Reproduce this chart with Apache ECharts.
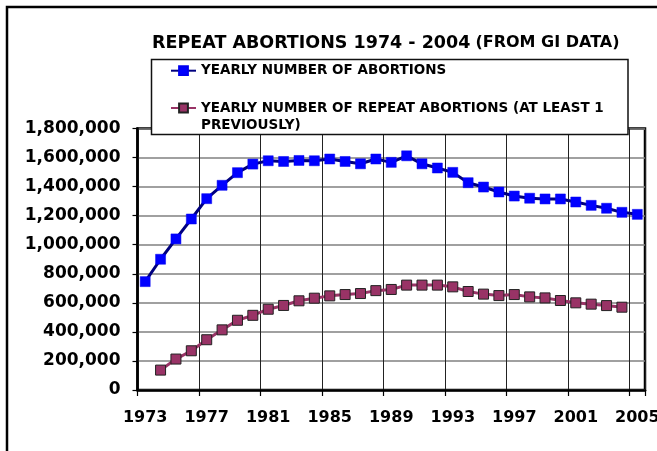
<!DOCTYPE html>
<html>
<head>
<meta charset="utf-8">
<script src="https://cdn.jsdelivr.net/npm/echarts@6/dist/echarts.min.js"></script>
<style>
html,body{margin:0;padding:0;background:#fff;}
#c{width:657px;height:451px;}
</style>
</head>
<body>
<div id="c"></div>
<script>
var years = [1973,1974,1975,1976,1977,1978,1979,1980,1981,1982,1983,1984,1985,1986,1987,1988,1989,1990,1991,1992,1993,1994,1995,1996,1997,1998,1999,2000,2001,2002,2003,2004,2005];
var abortions = [746000,900000,1040000,1177000,1317000,1409000,1496000,1555000,1578000,1573000,1580000,1578000,1590000,1573000,1557000,1590000,1567000,1612000,1557000,1528000,1498000,1427000,1397000,1363000,1335000,1320000,1315000,1315000,1294000,1271000,1251000,1223000,1209000];
var repeatAbortions = [null,137000,213000,270000,346000,414000,480000,514000,556000,582000,614000,632000,648000,657000,664000,684000,692000,722000,722000,722000,710000,678000,660000,650000,657000,641000,634000,616000,600000,591000,581000,570000,null];
var seriesNames = ['YEARLY NUMBER OF ABORTIONS', 'YEARLY NUMBER OF REPEAT ABORTIONS (AT LEAST 1 PREVIOUSLY)'];
var legendLabels = ['YEARLY NUMBER OF ABORTIONS', '\nYEARLY NUMBER OF REPEAT ABORTIONS (AT LEAST 1\nPREVIOUSLY)'];
var titleMain = 'REPEAT ABORTIONS 1974 - 2004';
var titleSub = '(FROM GI DATA)';

var FONT = 'DejaVu Sans';
var chart = echarts.init(document.getElementById('c'), null, {renderer: 'canvas'});
chart.setOption({
  animation: false,
  backgroundColor: '#ffffff',
  title: {
    left: 147, top: 29,
    text: '{a|' + titleMain + '} {b|' + titleSub + '}',
    textStyle: {
      rich: {
        a: {fontFamily: FONT, fontWeight: 'bold', fontSize: 17.5, color: '#000'},
        b: {fontFamily: FONT, fontWeight: 'bold', fontSize: 16, color: '#000'}
      }
    }
  },
  graphic: [
    {type: 'rect', z: 0, silent: true, shape: {x: 7, y: 7, width: 720, height: 520},
     style: {fill: 'none', stroke: '#000', lineWidth: 2.5}},
    {type: 'rect', z: 3, silent: true, shape: {x: 151.5, y: 59.5, width: 476.5, height: 75},
     style: {fill: '#fff', stroke: '#111', lineWidth: 1.5}}
  ],
  legend: [
    {
      data: [{name: seriesNames[0]}],
      left: 170, top: 62.2, padding: 0, orient: 'vertical',
      itemWidth: 25, itemHeight: 11, selectedMode: false,
      formatter: function () { return legendLabels[0]; },
      textStyle: {fontFamily: FONT, fontWeight: 'bold', fontSize: 13.5, lineHeight: 17, color: '#000'}
    },
    {
      data: [{name: seriesNames[1]}],
      left: 170, top: 82.5, padding: 0, orient: 'vertical',
      itemWidth: 25, itemHeight: 11, selectedMode: false,
      formatter: function () { return legendLabels[1]; },
      textStyle: {fontFamily: FONT, fontWeight: 'bold', fontSize: 13.5, lineHeight: 17, color: '#000'}
    }
  ],
  grid: {
    left: 137.5, right: 12, top: 128.5, bottom: 61,
    show: true, borderColor: '#000', borderWidth: 2.5, backgroundColor: 'transparent',
    containLabel: false, outerBoundsMode: 'none'
  },
  xAxis: {
    type: 'category',
    data: years,
    boundaryGap: true,
    axisLine: {show: true, lineStyle: {color: '#000', width: 2.5}},
    axisTick: {show: true, interval: 3, length: 6, lineStyle: {color: '#000', width: 1.2}},
    axisLabel: {interval: 3, margin: 20, fontFamily: FONT, fontWeight: 'bold', fontSize: 16, color: '#000', hideOverlap: false},
    splitLine: {show: true, interval: 3, lineStyle: {color: '#222', width: 1}}
  },
  yAxis: {
    type: 'value',
    min: 0, max: 1800000, interval: 200000,
    axisLine: {show: true, lineStyle: {color: '#000', width: 2.5}},
    axisTick: {show: true, length: 5, lineStyle: {color: '#000', width: 1.2}},
    axisLabel: {margin: 17, fontFamily: FONT, fontWeight: 'bold', fontSize: 17, color: '#000',
      formatter: function (v) { return echarts.format.addCommas(v); }},
    splitLine: {show: true, lineStyle: {color: '#808080', width: 1.5}}
  },
  series: [
    {
      name: seriesNames[0], type: 'line', data: abortions,
      symbol: 'rect', symbolSize: 10, showAllSymbol: true,
      lineStyle: {color: '#00007f', width: 3},
      itemStyle: {color: '#0000ff', borderColor: '#0000ee', borderWidth: 0.5}
    },
    {
      name: seriesNames[1], type: 'line', data: repeatAbortions,
      symbol: 'rect', symbolSize: 10, showAllSymbol: true,
      lineStyle: {color: '#993366', width: 3},
      itemStyle: {color: '#993366', borderColor: '#222', borderWidth: 1}
    }
  ]
});
</script>
</body>
</html>
